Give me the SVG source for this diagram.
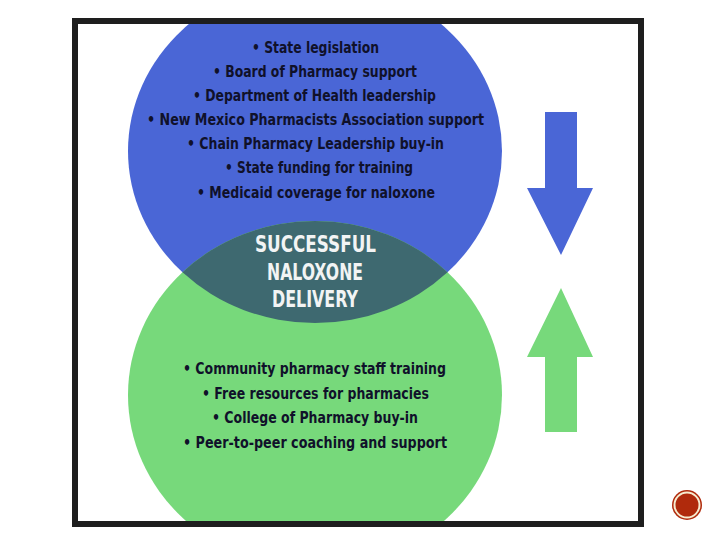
<svg xmlns="http://www.w3.org/2000/svg" width="720" height="540" viewBox="0 0 720 540">
<defs>
<style>
.item{font-family:"Liberation Sans Narrow","DejaVu Sans Condensed","Liberation Sans",sans-serif;font-weight:bold;font-size:16.5px;fill:#10112a;text-anchor:middle}
.center{font-family:"Liberation Sans Narrow","DejaVu Sans Condensed","Liberation Sans",sans-serif;font-weight:bold;font-size:23px;fill:#f2f4f4;text-anchor:middle}
.blue{fill:#4a66d6}
.green{fill:#77d97b}
</style>
<clipPath id="frameClip"><rect x="78" y="24" width="560" height="497"/></clipPath>
<clipPath id="blueClip"><ellipse cx="315" cy="151" rx="187" ry="172"/></clipPath>
</defs>
<rect x="0" y="0" width="720" height="540" fill="#ffffff"/>
<g id="frame">
<rect x="75" y="21" width="566" height="503" fill="#ffffff" stroke="#1e1e1e" stroke-width="6"/>
</g>
<g clip-path="url(#frameClip)">
<g id="blue-circle">
<ellipse class="blue" cx="315" cy="151" rx="187" ry="172"/>
</g>
<g id="green-circle">
<ellipse class="green" cx="315" cy="395" rx="187" ry="174"/>
</g>
<g id="overlap">
<ellipse cx="315" cy="395" rx="187" ry="174" fill="#3e6970" clip-path="url(#blueClip)"/>
</g>
</g>
<g id="blue-text">
<text class="item" x="315.5" y="53" textLength="127" lengthAdjust="spacingAndGlyphs">• State legislation</text>
<text class="item" x="315" y="77" textLength="204" lengthAdjust="spacingAndGlyphs">• Board of Pharmacy support</text>
<text class="item" x="314.5" y="101" textLength="243" lengthAdjust="spacingAndGlyphs">• Department of Health leadership</text>
<text class="item" x="315.5" y="125" textLength="337" lengthAdjust="spacingAndGlyphs">• New Mexico Pharmacists Association support</text>
<text class="item" x="315.5" y="149" textLength="257" lengthAdjust="spacingAndGlyphs">• Chain Pharmacy Leadership buy-in</text>
<text class="item" x="319" y="173" textLength="188" lengthAdjust="spacingAndGlyphs">• State funding for training</text>
<text class="item" x="316" y="198" textLength="238" lengthAdjust="spacingAndGlyphs">• Medicaid coverage for naloxone</text>
</g>
<g id="center-text">
<text class="center" x="315.5" y="252" textLength="121" lengthAdjust="spacingAndGlyphs">SUCCESSFUL</text>
<text class="center" x="315" y="280" textLength="96" lengthAdjust="spacingAndGlyphs">NALOXONE</text>
<text class="center" x="315" y="307" textLength="86" lengthAdjust="spacingAndGlyphs">DELIVERY</text>
</g>
<g id="green-text">
<text class="item" x="314.5" y="374" textLength="263" lengthAdjust="spacingAndGlyphs">• Community pharmacy staff training</text>
<text class="item" x="315.5" y="399" textLength="227" lengthAdjust="spacingAndGlyphs">• Free resources for pharmacies</text>
<text class="item" x="315" y="423" textLength="206" lengthAdjust="spacingAndGlyphs">• College of Pharmacy buy-in</text>
<text class="item" x="315" y="448" textLength="264" lengthAdjust="spacingAndGlyphs">• Peer-to-peer coaching and support</text>
</g>
<g id="arrows">
<polygon id="arrow-down" class="blue" points="545,112 577,112 577,188 593,188 561,255 527,188 545,188"/>
<polygon id="arrow-up" class="green" points="561,288 593,357 577,357 577,432 545,432 545,357 527,357"/>
</g>
<g id="page-badge">
<circle cx="687" cy="505" r="15" fill="#b02a0c"/>
<circle cx="687" cy="505" r="12.5" fill="none" stroke="#f6ecd0" stroke-width="2"/>
</g>
</svg>
